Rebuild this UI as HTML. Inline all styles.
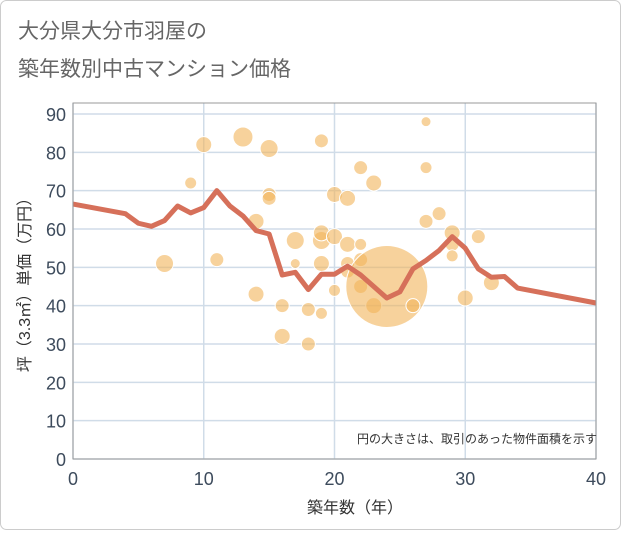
<!DOCTYPE html>
<html><head><meta charset="utf-8"><style>
body{margin:0;background:#fff;}
svg text{font-family:"Liberation Sans","Noto Sans CJK JP",sans-serif;}
</style></head><body>
<svg width="621" height="530" xmlns="http://www.w3.org/2000/svg" id="chart">
<rect x="0.5" y="0.5" width="620" height="529" rx="6" fill="#fff" stroke="#ccc"/>
<text x="18" y="38" font-size="21" fill="#666">大分県大分市羽屋の</text>
<text x="18" y="76" font-size="21" fill="#666">築年数別中古マンション価格</text>
<g id="grid"></g>
<g id="bubbles"></g>
<g id="line"></g>
<rect x="73" y="103" width="523" height="356" fill="none" stroke="#999" stroke-width="1"/>
<g id="axes"></g>
<text x="597" y="443" font-size="12" fill="#333" text-anchor="end">円の大きさは、取引のあった物件面積を示す</text>
<text x="355" y="513" font-size="16" fill="#333" text-anchor="middle">築年数（年）</text>
<text transform="translate(30,281) rotate(-90)" font-size="16" fill="#333" text-anchor="middle">坪（3.3㎡）単価（万円）</text>
</svg>
<script>
const xTicks=[0,10,20,30,40];
const yTicks=[0,10,20,30,40,50,60,70,80,90];
const bubbleX=[7,9,10,11,13,14,14,15,15,15,16,16,17,17,18,18,19,19,19,19,19,20,20,20,21,21,21,21,22,22,22,22,23,23,24,26,27,27,27,28,29,29,29,30,31,32];
const bubbleY=[51,72,82,52,84,62,43,81,69,68,40,32,57,51,39,30,83,57,59,51,38,69,58,44,68,56,51,49,76,56,52,45,72,40,45,40,88,76,62,64,59,56,53,42,58,46];
const bubbleR=[9,6,8,7,10,8,8,9,7,7,7,8,9,5,7,7,7,9,8,8,6,8,8,6,8,8,7,7,7,6,7,7,8,8,41,7,5,6,7,7,8,7,6,8,7,8];
const lineX=[0,4,5,6,7,8,9,10,11,12,13,14,15,16,17,18,19,20,21,22,23,24,25,26,27,28,29,30,31,32,33,34,40];
const lineY=[66.5,64,61.5,60.7,62.2,66,64.2,65.6,70,66,63.4,59.6,58.7,48,48.7,44.2,48.2,48.2,50.3,48,45,42,43.6,49.6,51.8,54.4,58,55,49.6,47.4,47.6,44.6,40.7];
const NS="http://www.w3.org/2000/svg";
const X0=73,X1=596,Y0=459,Y90=114;
function sx(v){return X0+(X1-X0)*v/40;}
function sy(v){return Y0-(Y0-Y90)*v/90;}
function mk(t,a,p){const e=document.createElementNS(NS,t);for(const k in a)e.setAttribute(k,a[k]);p.appendChild(e);return e;}
const grid=document.getElementById('grid'),axes=document.getElementById('axes');
yTicks.forEach(v=>{
 const l=mk('line',{x1:X0,x2:X1,y1:sy(v),y2:sy(v),stroke:'#d0dce8','stroke-width':1.5},grid);
 
 
 const t=mk('text',{x:66,y:sy(v)+7,'font-size':18,fill:'#3d4b5c','text-anchor':'end'},axes);
 t.textContent=v;
 
 
});
xTicks.forEach(v=>{
 const l=mk('line',{x1:sx(v),x2:sx(v),y1:103,y2:Y0,stroke:'#d0dce8','stroke-width':1.5},grid);
 
 
 const t=mk('text',{x:sx(v),y:485,'font-size':18,fill:'#3d4b5c','text-anchor':'middle'},axes);
 t.textContent=v;
 
 
});
const bg=document.getElementById('bubbles');
bubbleX.forEach((x,i)=>{
 const c=mk('circle',{cx:sx(x),cy:sy(bubbleY[i]),r:bubbleR[i],fill:'rgba(242,180,90,0.6)',stroke:'#fff','stroke-width':1},bg);
 
 
});
const lg=document.getElementById('line');
const p=mk('polyline',{points:lineX.map((x,i)=>sx(x)+','+sy(lineY[i])).join(' '),fill:'none',stroke:'#d6705a','stroke-width':5,'stroke-linejoin':'round'},lg);


</script>
</body></html>
